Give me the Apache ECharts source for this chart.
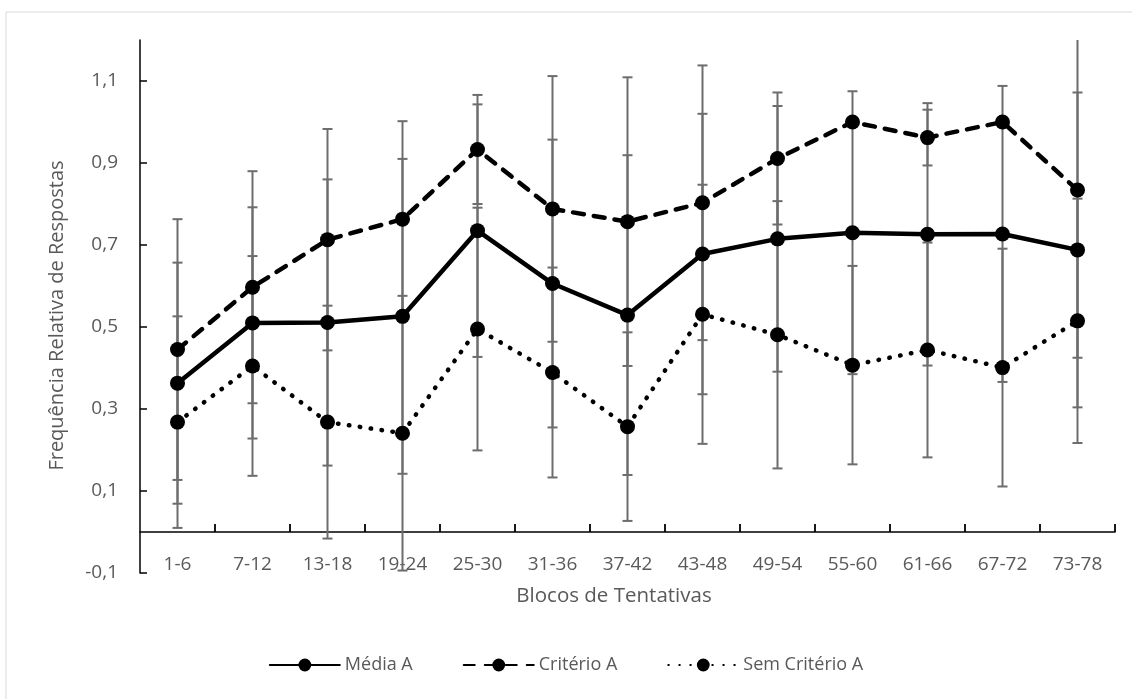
<!DOCTYPE html>
<html>
<head>
<meta charset="utf-8">
<script src="https://cdn.jsdelivr.net/npm/echarts@6/dist/echarts.min.js"></script>
<style>
  html, body { margin: 0; padding: 0; background: #fff; }
  #chart { width: 1132px; height: 699px; }
</style>
</head>
<body>
<div id="chart"></div>
<script>
// Blocks of trials
const categories = ['1-6', '7-12', '13-18', '19-24', '25-30', '31-36', '37-42', '43-48', '49-54', '55-60', '61-66', '67-72', '73-78'];

// Mean relative frequency per block
const mediaA = [0.363, 0.510, 0.511, 0.526, 0.735, 0.606, 0.529, 0.678, 0.715, 0.730, 0.726, 0.727, 0.688];
const criterioA = [0.445, 0.597, 0.713, 0.763, 0.933, 0.788, 0.757, 0.803, 0.911, 1.000, 0.962, 1.000, 0.834];
const semCriterioA = [0.268, 0.405, 0.268, 0.241, 0.495, 0.389, 0.257, 0.531, 0.481, 0.407, 0.444, 0.401, 0.515];

// Standard deviations (symmetric error bars)
const mediaErr = [0.294, 0.282, 0.349, 0.384, 0.308, 0.351, 0.390, 0.342, 0.324, 0.345, 0.320, 0.361, 0.384];
const criterioErr = [0.318, 0.283, 0.270, 0.239, 0.133, 0.324, 0.352, 0.335, 0.161, 0.000, 0.068, 0.000, 0.409];
const semErr = [0.258, 0.268, 0.284, 0.335, 0.296, 0.256, 0.230, 0.316, 0.326, 0.242, 0.262, 0.290, 0.298];

// Y axis
const yMin = -0.1;
const yMax = 1.2;
const yTickValues = [-0.1, 0.1, 0.3, 0.5, 0.7, 0.9, 1.1];

const FONT = '"Open Sans", "Noto Sans", sans-serif';
const TEXT = '#595959';
const ERR_COLOR = '#6d6d6d';

function errorData(means, errs) {
  return means.map((m, i) => [i, m - errs[i], m + errs[i]]);
}

function renderErrorBar(params, api) {
  const idx = api.value(0);
  let lo = api.value(1);
  let hi = api.value(2);
  const capTop = hi <= yMax;
  const capBot = lo >= yMin;
  hi = Math.min(hi, yMax);
  lo = Math.max(lo, yMin);
  const top = api.coord([idx, hi]);
  const bot = api.coord([idx, lo]);
  const half = 5;
  const style = { stroke: ERR_COLOR, lineWidth: 2 };
  const children = [
    { type: 'line', shape: { x1: top[0], y1: top[1], x2: bot[0], y2: bot[1] }, style: style }
  ];
  if (capTop) children.push({ type: 'line', shape: { x1: top[0] - half, y1: top[1], x2: top[0] + half, y2: top[1] }, style: style });
  if (capBot) children.push({ type: 'line', shape: { x1: bot[0] - half, y1: bot[1], x2: bot[0] + half, y2: bot[1] }, style: style });
  return { type: 'group', children: children };
}

function errorSeries(means, errs) {
  return {
    type: 'custom',
    renderItem: renderErrorBar,
    data: errorData(means, errs),
    encode: { x: 0, y: [1, 2] },
    z: 1,
    silent: true
  };
}

// Category-boundary tick marks on the zero line, pointing up into the plot
function renderBoundaryTick(params, api) {
  const idx = api.value(0);
  const c = api.coord([idx, 0]);
  const next = api.coord([idx + 1, 0]);
  const prev = api.coord([idx - 1, 0]);
  const band = idx < categories.length - 1 ? next[0] - c[0] : c[0] - prev[0];
  const x = c[0] + band / 2;
  return {
    type: 'group',
    children: [{
      type: 'line',
      shape: { x1: x, y1: c[1], x2: x, y2: c[1] - 8 },
      style: { stroke: '#000', lineWidth: 1.8 }
    }]
  };
}

function lineSeries(name, data, dash) {
  return {
    name: name,
    type: 'line',
    data: data,
    symbol: 'circle',
    symbolSize: 15,
    z: 3,
    itemStyle: { color: '#000' },
    lineStyle: { color: '#000', width: 4.5, type: dash, cap: 'round' }
  };
}

const chart = echarts.init(document.getElementById('chart'));
chart.setOption({
  animation: false,
  backgroundColor: '#fff',
  textStyle: { fontFamily: FONT },
  graphic: [{
    type: 'rect',
    shape: { x: 6, y: 12, width: 1140, height: 700 },
    style: { fill: 'none', stroke: '#d9d9d9', lineWidth: 1 },
    silent: true,
    z: -10
  }],
  grid: { left: 140, right: 17, top: 40, bottom: 126 },
  legend: {
    bottom: 20,
    left: 'center',
    itemWidth: 70,
    itemHeight: 16,
    itemGap: 50,
    data: ['Média A', 'Critério A', 'Sem Critério A'],
    textStyle: { color: TEXT, fontSize: 18, fontFamily: FONT }
  },
  xAxis: {
    type: 'category',
    data: categories,
    boundaryGap: true,
    name: 'Blocos de Tentativas',
    nameLocation: 'middle',
    nameMoveOverlap: false,
    nameGap: 13,
    nameTextStyle: { color: TEXT, fontSize: 20.5, fontFamily: FONT, padding: [0, 27, 0, 0] },
    axisLine: { onZero: true, lineStyle: { color: '#000', width: 1.5 } },
    axisTick: { show: false },
    axisLabel: { color: TEXT, fontSize: 19, fontFamily: FONT, margin: -18, interval: 0 },
    splitLine: { show: false }
  },
  yAxis: {
    type: 'value',
    min: yMin,
    max: yMax,
    name: 'Frequência Relativa de Respostas',
    nameLocation: 'middle',
    nameMoveOverlap: false,
    nameRotate: 90,
    nameGap: 73,
    nameTextStyle: { color: TEXT, fontSize: 20, fontFamily: FONT, padding: [0, 18, 0, 0] },
    axisLine: { show: true, lineStyle: { color: '#000', width: 1.5 } },
    axisTick: { show: true, inside: true, length: 7, customValues: yTickValues, lineStyle: { color: '#000', width: 1.5 } },
    axisLabel: {
      color: TEXT, fontSize: 19, fontFamily: FONT, margin: 22,
      customValues: yTickValues,
      formatter: v => v.toFixed(1).replace('.', ',')
    },
    splitLine: { show: false }
  },
  series: [
    {
      type: 'custom',
      renderItem: renderBoundaryTick,
      data: categories.map((c, i) => [i, 0]),
      encode: { x: 0, y: 1 },
      z: 5,
      silent: true
    },
    errorSeries(mediaA, mediaErr),
    errorSeries(criterioA, criterioErr),
    errorSeries(semCriterioA, semErr),
    lineSeries('Média A', mediaA, 'solid'),
    lineSeries('Critério A', criterioA, [11, 10]),
    lineSeries('Sem Critério A', semCriterioA, [0.5, 10.5])
  ]
});
</script>
</body>
</html>
